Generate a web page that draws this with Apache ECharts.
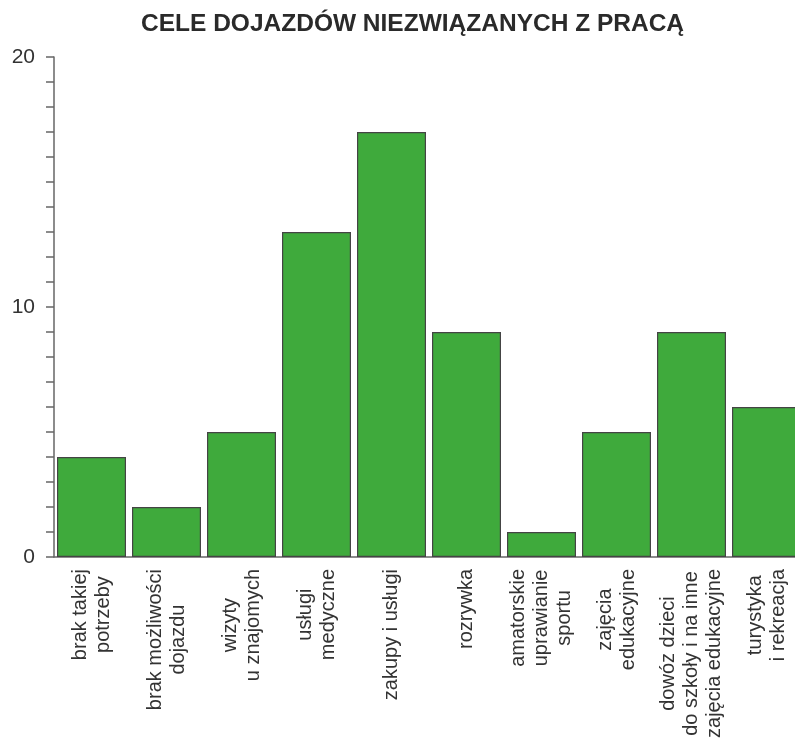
<!DOCTYPE html>
<html>
<head>
<meta charset="utf-8">
<script src="https://cdn.jsdelivr.net/npm/echarts@6/dist/echarts.min.js"></script>
<style>
html,body{margin:0;padding:0;background:#fff;overflow:hidden;width:795px;height:742px;}
#chart{width:804px;height:742px;}
</style>
</head>
<body>
<div id="chart"></div>
<script>
const titleText = 'CELE DOJAZDÓW NIEZWIĄZANYCH Z PRACĄ';
const categories = [
  'brak takiej\npotrzeby',
  'brak możliwości\ndojazdu',
  'wizyty\nu znajomych',
  'usługi\nmedyczne',
  'zakupy i usługi',
  'rozrywka',
  'amatorskie\nuprawianie\nsportu',
  'zajęcia\nedukacyjne',
  'dowóz dzieci\ndo szkoły i na inne\nzajęcia edukacyjne',
  'turystyka\ni rekreacja'
];
const values = [4, 2, 5, 13, 17, 9, 1, 5, 9, 6];
const yLabels = [0, 10, 20];

const chart = echarts.init(document.getElementById('chart'), null, {renderer: 'canvas'});
chart.setOption({
  animation: false,
  backgroundColor: '#ffffff',
  title: {
    text: titleText,
    left: 136,
    top: 7,
    textStyle: {
      fontFamily: 'Liberation Sans, Arial, sans-serif',
      fontSize: 24.5,
      fontWeight: 'bold',
      color: '#2a2a2a'
    }
  },
  grid: {
    left: 54,
    top: 57,
    right: 0,
    height: 500,
    containLabel: false
  },
  xAxis: {
    type: 'category',
    data: categories,
    axisLine: {show: true, lineStyle: {color: '#666', width: 1.5}},
    axisTick: {show: false},
    axisLabel: {
      rotate: 90,
      interval: 0,
      margin: 12,
      fontFamily: 'Liberation Sans, Arial, sans-serif',
      fontSize: 20,
      lineHeight: 23,
      color: '#333',
      formatter: function (v) {
        return v.split('\n').map(function (s) { return '{c|' + s + '}'; }).join('\n');
      },
      rich: {
        c: {
          align: 'center',
          fontFamily: 'Liberation Sans, Arial, sans-serif',
          fontSize: 20,
          lineHeight: 23,
          color: '#333'
        }
      }
    }
  },
  yAxis: {
    type: 'value',
    min: 0,
    max: 20,
    interval: 1,
    axisLine: {show: true, lineStyle: {color: '#666', width: 1.5}},
    axisTick: {show: true, length: 8, inside: false, lineStyle: {color: '#666', width: 1.5}},
    splitLine: {show: false},
    axisLabel: {
      margin: 19,
      fontFamily: 'Liberation Sans, Arial, sans-serif',
      fontSize: 21,
      color: '#333',
      formatter: function (v) { return yLabels.indexOf(v) >= 0 ? String(v) : ''; }
    }
  },
  series: [{
    type: 'bar',
    data: values,
    barWidth: 69,
    itemStyle: {
      color: '#3faa3c',
      borderColor: '#444',
      borderWidth: 1.2
    }
  }]
});
</script>
</body>
</html>
